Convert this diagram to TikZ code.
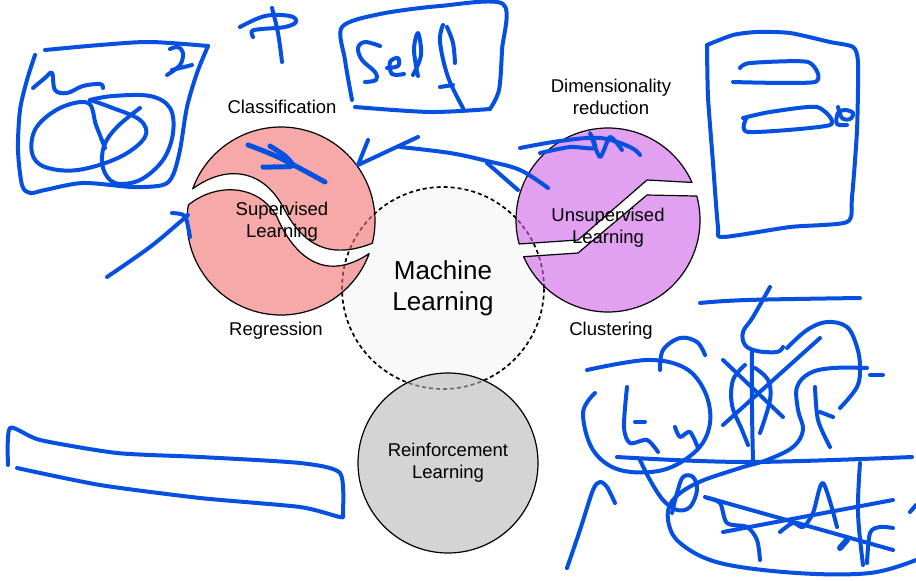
\documentclass[tikz,border=0pt]{standalone}
\usepackage{fontspec}
\setmainfont{Liberation Sans}
\usetikzlibrary{positioning, calc}

\definecolor{mlfill}{RGB}{249,249,249}
\definecolor{suppink}{RGB}{242,110,110}
\definecolor{unsuppurple}{RGB}{205,97,230}
\definecolor{rlgray}{RGB}{183,183,183}
\definecolor{inkblue}{RGB}{5,80,225}

\begin{document}
\begin{tikzpicture}[
    x=1pt, y=-1pt,
    lbl/.style={font=\fontsize{18.5}{22}\selectfont, align=center, inner sep=0pt},
    piece/.style={draw=black, line width=1.2pt, fill opacity=0.6, line join=round},
    mlcircle/.style={circle, draw=black, dash pattern=on 4pt off 3pt, line width=1.7pt, fill=mlfill,
      minimum size=202pt, inner sep=0pt, align=center, font=\fontsize{26}{31}\selectfont},
    rlcircle/.style={circle, draw=black, line width=1.2pt, fill=rlgray, fill opacity=0.6, text opacity=1,
      minimum size=180pt, inner sep=0pt, align=center, font=\fontsize{18.5}{22}\selectfont},
    ink/.style={draw=inkblue, line width=4pt, line cap=round, line join=round},
  ]
  \useasboundingbox (0,0) rectangle (916,581);

  % centre circle
  \node[mlcircle] (ml) at (443,288) {Machine\\Learning};

  % supervised: two pieces split by a wave
  \coordinate (sup) at (281,221);
  \draw[piece, fill=suppink] ($(sup)+(200:94)$) .. controls (225,165) and (262,168) .. (283,207)
    .. controls (300,240) and (325,262) .. ($(sup)+(13.7:94)$)
    arc[start angle=13.7, end angle=-160, radius=94] -- cycle;
  \draw[piece, fill=suppink] ($(sup)+(189.8:94)$) .. controls (215,183) and (258,183) .. (277,217)
    .. controls (292,252) and (322,285) .. ($(sup)+(20.3:94)$)
    arc[start angle=20.3, end angle=189.8, radius=94] -- cycle;

  % unsupervised: two pieces split by a crack
  \coordinate (unsup) at (608,220);
  \draw[piece, fill=unsuppurple] ($(unsup)+(164.9:92)$) -- (578,240) -- (647,180) -- ($(unsup)+(-24.1:92)$)
    arc[start angle=-24.1, end angle=-195.1, radius=92] -- cycle;
  \draw[piece, fill=unsuppurple] ($(unsup)+(156.5:92)$) -- (578,253) -- (647,195) -- ($(unsup)+(-15.1:92)$)
    arc[start angle=-15.1, end angle=156.5, radius=92] -- cycle;

  \node[rlcircle] (rl) at (448,463) {Reinforcement\\Learning};

  \node[lbl] (suptext) at (282,222) {Supervised\\Learning};
  \node[lbl] (unsuptext) at (608,228) {Unsupervised\\Learning};
  \node[lbl] (classif) at (282,107) {Classification};
  \node[lbl] (regr) at (276,331) {Regression};
  \node[lbl] (dimred) at (611,97) {Dimensionality\\reduction};
  \node[lbl] (clust) at (611,331) {Clustering};

  % handwritten strokes
  \draw[ink] plot[smooth, tension=0.5] coordinates {(35,55) (27,80) (20,110) (18,150) (22,185) (30,193) (45,190) (83,183) (133,187) (163,185) (173,175) (180,150) (187,107) (197,73) (208,46)};
  \draw[ink] plot[smooth, tension=0.5] coordinates {(208,46) (150,42) (100,45) (45,50)};
  \draw[ink] plot[smooth, tension=0.6] coordinates {(33,88) (45,78) (52,73) (55,90) (67,93) (83,86) (100,84) (103,88)};
  \draw[ink] plot[smooth, tension=0.6] coordinates {(170,49) (178,47) (183,53) (180,65) (167,75)};
  \draw[ink] (172,70) -- (192,65);
  \draw[ink] plot[smooth, tension=0.6] coordinates {(105,148) (96,125) (88,103) (60,108) (36,128) (32,153) (45,167) (78,170) (120,157) (145,137) (140,120) (110,107) (90,100)};
  \draw[ink] plot[smooth, tension=0.6] coordinates {(90,100) (113,96) (150,96) (170,108) (173,133) (163,160) (140,180) (115,183) (103,168) (104,146) (117,127) (140,108)};
  \draw[ink] plot[smooth, tension=0.6] coordinates {(272,8) (278,33) (282,62)};
  \draw[ink] plot[smooth, tension=0.6] coordinates {(240,27) (265,16) (290,16) (296,22) (285,27) (262,29) (252,31) (253,37)};
  \draw[ink] plot[smooth, tension=0.5] coordinates {(352,100) (345,60) (342,27) (380,14) (440,6) (503,4) (502,50) (499,90) (490,109)};
  \draw[ink] plot[smooth, tension=0.5] coordinates {(490,109) (430,112) (355,107)};
  \draw[ink] plot[smooth, tension=0.6] coordinates {(380,46) (365,42) (358,48) (362,60) (375,72) (376,80) (365,82)};
  \draw[ink] plot[smooth, tension=0.6] coordinates {(387,68) (398,66) (398,58) (390,62) (392,74) (404,74)};
  \draw[ink] plot[smooth, tension=0.6] coordinates {(413,75) (421,55) (418,33) (414,50) (418,76)};
  \draw[ink] plot[smooth, tension=0.6] coordinates {(443,25) (440,42) (448,77) (463,108)};
  \draw[ink] plot[smooth, tension=0.6] coordinates {(447,27) (453,43) (455,63)};
  \draw[ink] (440,87) -- (453,85);
  \draw[ink, line width=5pt] plot[smooth, tension=0.6] coordinates {(248,145) (280,158) (325,182)};
  \draw[ink, line width=5pt] plot[smooth, tension=0.4] coordinates {(270,146) (285,156) (292,166) (263,167)};
  \draw[ink] (368,140) -- (358,165) -- (418,137);
  \draw[ink] plot[smooth, tension=0.6] coordinates {(400,147) (450,153) (487,161) (520,170) (548,188)};
  \draw[ink] (487,163) -- (518,190);
  \draw[ink] plot[smooth, tension=0.6] coordinates {(520,148) (560,141) (600,138) (630,147) (640,155)};
  \draw[ink] plot[smooth, tension=0.4] coordinates {(540,153) (570,147) (595,148) (590,133) (600,157) (610,137) (622,150)};
  \draw[ink] plot[smooth, tension=0.6] coordinates {(107,277) (150,247) (180,222) (188,215)};
  \draw[ink] plot[smooth, tension=0.4] coordinates {(172,213) (185,216) (190,237)};
  \draw[ink] plot[smooth, tension=0.4] coordinates {(8,465) (10,428) (40,440) (117,453) (200,457) (300,463) (340,473) (343,513) (340,517) (300,507) (200,498) (100,485) (17,468)};
  \draw[ink] plot[smooth, tension=0.4] coordinates {(707,45) (733,35) (757,32) (790,33) (830,42) (853,47) (858,63) (857,130) (852,197) (847,222) (790,227) (723,237) (718,227) (713,163) (708,97) (707,45)};
  \draw[ink] plot[smooth, tension=0.4] coordinates {(740,68) (750,63) (808,62) (815,82) (733,82)};
  \draw[ink] plot[smooth, tension=0.4] coordinates {(743,118) (770,112) (817,107) (830,125) (748,132) (747,117)};
  \draw[ink] plot[smooth, tension=0.6] coordinates {(838,107) (842,118) (850,119) (853,113) (845,110) (838,113) (837,124) (847,125)};
  \draw[ink] plot[smooth, tension=0.6] coordinates {(700,303) (747,300) (860,298)};
  \draw[ink] plot[smooth, tension=0.6] coordinates {(770,287) (753,317) (743,332) (745,345) (757,351) (777,352) (783,347)};
  \draw[ink] plot[smooth, tension=0.6] coordinates {(752,352) (752,410) (753,460)};
  \draw[ink] plot[smooth, tension=0.6] coordinates {(587,370) (647,360) (685,368) (705,392) (710,423) (697,450) (663,470) (620,470) (593,450) (583,413) (595,393)};
  \draw[ink] plot[smooth, tension=0.6] coordinates {(660,370) (663,350) (680,338) (697,342) (705,355)};
  \draw[ink] plot[smooth, tension=0.5] coordinates {(627,387) (624,427) (630,443) (647,440) (658,452)};
  \draw[ink] (635,422) -- (645,422);
  \draw[ink] plot[smooth, tension=0.5] coordinates {(675,427) (680,437) (690,432) (698,448)};
  \draw[ink] plot[smooth, tension=0.6] coordinates {(617,457) (747,462) (912,457)};
  \draw[ink] (723,360) -- (783,417);
  \draw[ink] (723,425) -- (820,338);
  \draw[ink] plot[smooth, tension=0.6] coordinates {(745,365) (733,380) (732,405) (742,430) (748,445)};
  \draw[ink] plot[smooth, tension=0.6] coordinates {(760,433) (770,400) (768,380) (755,368)};
  \draw[ink] plot[smooth, tension=0.6] coordinates {(787,348) (807,330) (827,322) (847,327) (857,347) (860,367) (857,387) (840,408)};
  \draw[ink] (870,375) -- (883,375);
  \draw[ink] plot[smooth, tension=0.6] coordinates {(867,368) (833,368) (810,373) (797,387) (798,410) (803,430) (793,447) (767,460) (740,468) (697,483) (673,500) (668,520) (680,543) (720,563) (797,573) (870,573) (916,560)};
  \draw[ink] plot[smooth, tension=0.5] coordinates {(815,387) (818,420) (830,447)};
  \draw[ink] (820,412) -- (833,417);
  \draw[ink] plot[smooth, tension=0.6] coordinates {(860,463) (858,513) (863,565)};
  \draw[ink] plot[smooth, tension=0.6] coordinates {(640,460) (650,480) (663,500) (677,510) (690,507) (697,490) (693,477) (683,477) (677,493) (672,513)};
  \draw[ink] plot[smooth, tension=0.5] coordinates {(707,498) (720,503) (727,523) (747,527) (757,540) (760,560)};
  \draw[ink] (723,532) -- (893,500);
  \draw[ink] (705,497) -- (893,550);
  \draw[ink] plot[smooth, tension=0.5] coordinates {(780,532) (793,523) (803,527) (813,513) (823,483) (837,527)};
  \draw[ink, line width=6pt] (840,548) -- (847,540);
  \draw[ink] plot[smooth, tension=0.5] coordinates {(867,563) (870,533) (880,527) (893,528)};
  \draw[ink] plot[smooth, tension=0.5] coordinates {(567,568) (580,530) (593,490) (600,482) (607,487) (615,503)};
  \draw[ink] (910,512) -- (916,505);
\end{tikzpicture}
\end{document}
